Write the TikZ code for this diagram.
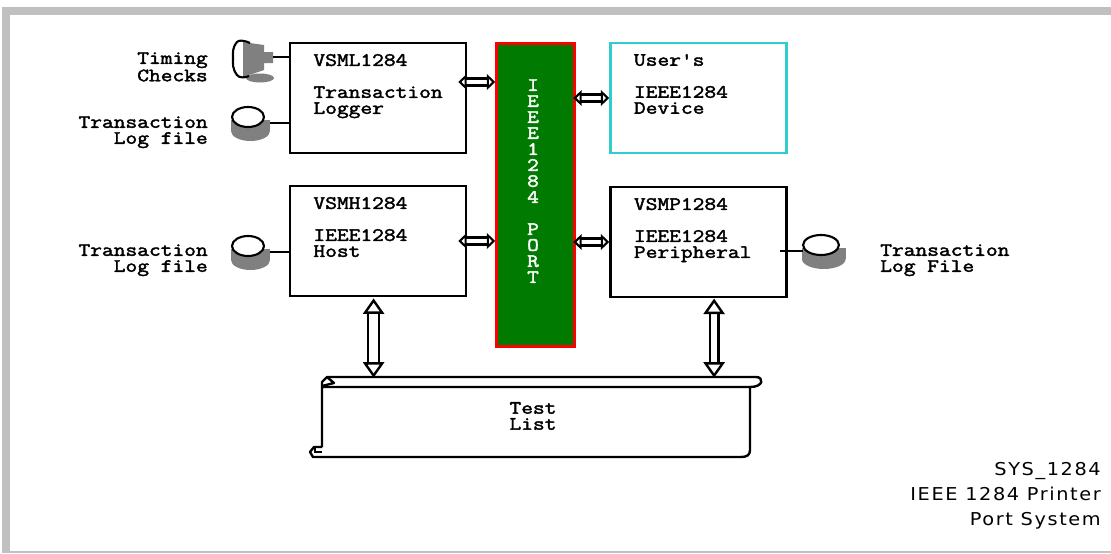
\documentclass[tikz,border=0pt]{standalone}
\usepackage{xcolor}
\usepackage{fontspec}
\usepackage{tikz}
\usetikzlibrary{positioning, arrows.meta}
\newfontfamily\boxfont[FakeStretch=1.21,FakeBold=2.2]{Latin Modern Mono}
\newfontfamily\notefont[FakeStretch=1.09,LetterSpace=9]{DejaVu Sans}
\definecolor{frame}{HTML}{C0C0C0}
\definecolor{portgreen}{HTML}{007A00}
\definecolor{usercyan}{HTML}{33CCCC}
\definecolor{diskgray}{HTML}{808080}

\begin{document}
\begin{tikzpicture}[
    x=0.025cm, y=-0.025cm,
    block/.style={draw, line width=1.7pt, minimum width=4.4cm, minimum height=2.75cm},
    txt/.style={font=\boxfont\fontsize{13.4}{11.38}\selectfont, inner sep=0pt},
    boxtxt/.style={txt, align=left, below right=3mm and 6.1mm of #1},
    link/.style={line width=1.7pt},
    harrow/.style={line width=1.7pt, double, double distance=3.4pt,
        {Triangle[open, fill=white, length=6pt, width=11pt, line width=1.7pt]}-{Triangle[open, fill=white, length=6pt, width=11pt, line width=1.7pt]}},
    varrow/.style={line width=1.7pt, double, double distance=#1,
        {Triangle[open, fill=white, length=11pt, width=15pt, line width=1.7pt]}-{Triangle[open, fill=white, length=11pt, width=15pt, line width=1.7pt]}},
    disk/.pic={
        \fill[diskgray] (2.5,14) ellipse (19.5 and 10);
        \fill[diskgray] (-17,3) rectangle (22,14);
        \draw[line width=1.5pt, fill=white] (0,0) ellipse (16 and 10);
        \coordinate (-r) at (22,6);
        \coordinate (-l) at (-16,6);
    },
    probe/.pic={
        \fill[diskgray] (27,20) ellipse (14 and 4.5);
        \fill[diskgray] (10,-16) -- (31,-13) -- (31,-6) -- (40,-6) -- (40,5) -- (31,5) -- (31,12) -- (10,19) -- cycle;
        \draw[line width=1.5pt] (17,-15) .. controls (10,-18) and (6,-18) .. (4,-16) .. controls (-1,-10) and (0,-5) .. (0,0) .. controls (0,6) and (-1,10) .. (4,17) .. controls (6,20) and (12,20) .. (16,18);
        \coordinate (-r) at (40,-1);
    },
]
% frame
\fill[white] (0,0) rectangle (1111,553);
\fill[frame] (2,7) rectangle (1111,15);
\fill[frame] (2,7) rectangle (10,553);
\fill[frame] (2,551) rectangle (1111,553);

% blocks
\node[block] (logger) at (378,98) {};
\node[block, draw=usercyan] (user) at (698.5,98) {};
\node[block] (host) at (378,241) {};
\node[block] (periph) at (698.5,242) {};
\fill[portgreen] (497,44) rectangle (576,348);
\node[draw=red, line width=1.7pt, fill=portgreen, minimum width=1.95cm, minimum height=7.57cm] (port) at (535.5,195) {};

\node[boxtxt=logger.north west] (loggertxt) {VSML1284\\~\\Transaction\\Logger};
\node[boxtxt=user.north west] (usertxt) {User's\\~\\IEEE1284\\Device};
\node[boxtxt=host.north west] (hosttxt) {VSMH1284\\~\\IEEE1284\\Host};
\node[boxtxt=periph.north west] (periphtxt) {VSMP1284\\~\\IEEE1284\\Peripheral};
\node[txt, white, align=center, anchor=north] (porttxt) at (533,79) {I\\E\\E\\E\\1\\2\\8\\4\\~\\P\\O\\R\\T};

% side labels
\node[txt, align=right, anchor=north east] (timing) at (208,52) {Timing\\Checks};
\node[txt, align=right, anchor=north east] (loglbl) at (208,116) {Transaction\\Log file};
\node[txt, align=right, anchor=north east] (hostlbl) at (208,244) {Transaction\\Log file};
\node[txt, align=left, anchor=north west] (periphlbl) at (880,244) {Transaction\\Log File};

% disks and probe
\pic (dprobe) at (233,58) {probe};
\pic (dlog) at (248,117) {disk};
\pic (dhost) at (248,246) {disk};
\pic[xscale=1.12] (dperiph) at (821,245) {disk};

\draw[link] (dprobe-r) -- (dprobe-r -| logger.west);
\draw[link] (dlog-r) -- (dlog-r -| logger.west);
\draw[link] (dhost-r) -- (dhost-r -| host.west);
\draw[link] (dperiph-l) -- ([xshift=-2mm]dperiph-l -| periph.east);

% scroll
\node[txt, align=center, minimum width=10.7cm, minimum height=1.9cm] (tests) at (533,416) {Test\\List};
\draw[link, line join=round] (322,447) -- (322,387) -- (750,387) -- (750,450) .. controls (750,455) and (747,457) .. (741,457) -- (313,457) -- (310,452) -- (314,447) -- (322,447);
\draw[link, line join=round] (322,387) -- (322,382) -- (327,377) -- (756,377) .. controls (764,377) and (764,387) .. (750,387);
\draw[link, line join=round] (327,377) -- (334,383) -- (322,386);
\draw[line width=1pt] (315,447) -- (315,452) -- (322,452);

% arrows
\draw[harrow] ([xshift=-2.25mm,yshift=4mm]logger.east) -- ([yshift=4mm]logger.east -| port.west);
\draw[harrow] ([xshift=-2.25mm]host.east) -- (host.east -| port.west);
\draw[harrow] (user.west -| port.east) ++(-2.5,0) -- (user.west);
\draw[harrow] (periph.west -| port.east) ++(-2.5,0) -- (periph.west);
\draw[varrow=6.4pt] ([xshift=-1.1mm,yshift=-0.3mm]host.south) -- ([xshift=-1.1mm]host.south |- tests.north);
\draw[varrow=4.4pt] ([xshift=3.9mm,yshift=-0.1mm]periph.south) -- ([xshift=3.9mm]periph.south |- tests.north);

% note
\node[font=\notefont\fontsize{12.6}{17.8}\selectfont, align=right, inner sep=0pt, anchor=north east] (note) at (1101,462) {SYS\_1284\\IEEE 1284 Printer\\Port System};
\end{tikzpicture}
\end{document}
